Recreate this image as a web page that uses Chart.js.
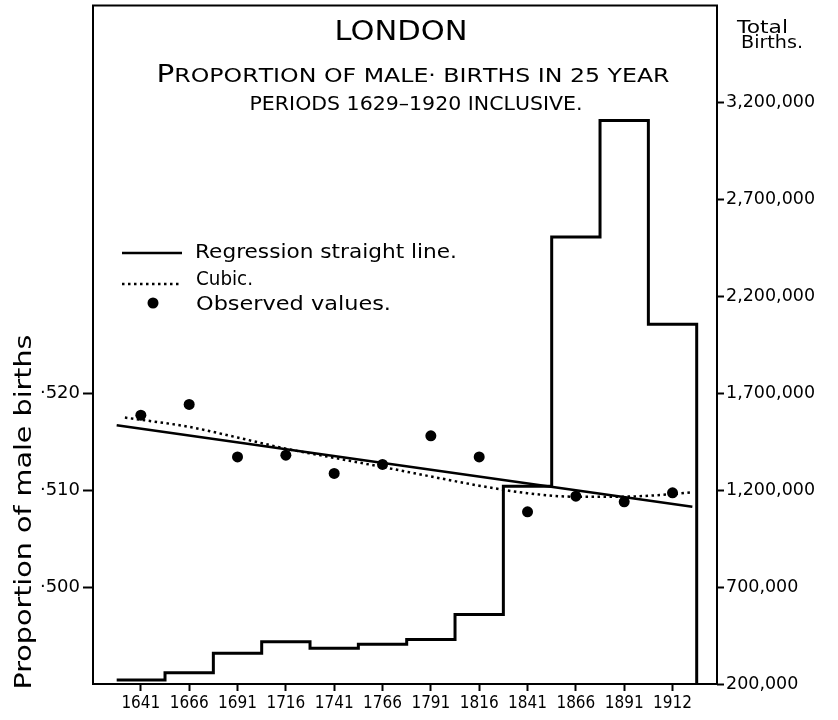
<!DOCTYPE html>
<html><head><meta charset="utf-8">
<script src="https://cdn.jsdelivr.net/npm/chart.js@4/dist/chart.umd.min.js"></script>
<style>html,body{margin:0;padding:0;background:#fff;} canvas{display:block;}</style>
</head><body>
<canvas id="c" width="838" height="720"></canvas>
<script>
// ---- data ----
const years = ['1641','1666','1691','1716','1741','1766','1791','1816','1841','1866','1891','1912'];
const totalBirths = [220000, 258000, 358000, 418000, 384000, 405000, 430000, 559000, 1220000, 2506000, 3107000, 2056000];
const observed = [0.51773, 0.51884, 0.51343, 0.51361, 0.51172, 0.51265, 0.51560, 0.51343, 0.50776, 0.50938, 0.50880, 0.50972];
const cubicPos = [-0.33, 0, 1, 2, 3, 4, 5, 6, 7, 8, 9, 10, 11, 11.37];
const cubicVal = [0.51749, 0.51726, 0.51653, 0.51543, 0.51428, 0.51333, 0.51239, 0.51141, 0.51046, 0.50968, 0.50932, 0.50933, 0.50959, 0.50976];
const regressionPos = [-0.5, 11.41];
const regressionVal = [0.5167, 0.50828];
const propTicks = [0.500, 0.510, 0.520];
const birthTicks = [200000, 700000, 1200000, 1700000, 2200000, 2700000, 3200000];

const FONT = '"DejaVu Sans", "Liberation Sans", sans-serif';
const NARROW = '"Liberation Sans Narrow", "DejaVu Sans Condensed", "Liberation Sans", sans-serif';

// step outline built from the birth totals (each period is one bin)
const stepData = [];
totalBirths.forEach((b, i) => { stepData.push({x: i - 0.5, y: b}); stepData.push({x: i + 0.5, y: b}); });
stepData.push({x: totalBirths.length - 0.5, y: birthTicks[0]});

function fitText(ctx, text, x, y, width, align) {
  const w = ctx.measureText(text).width;
  ctx.save();
  ctx.translate(x, y);
  ctx.scale(width / w, 1);
  ctx.textAlign = align;
  ctx.fillText(text, 0, 0);
  ctx.restore();
}
function smallCaps(ctx, text, cx, y, width, big, small) {
  const segs = [];
  for (const ch of text) {
    const isBig = ch !== ch.toLowerCase();
    segs.push({ch: ch.toUpperCase(), size: isBig ? big : small});
  }
  let total = 0;
  segs.forEach(s => { ctx.font = s.size + 'px ' + FONT; s.w = ctx.measureText(s.ch).width; total += s.w; });
  ctx.save();
  ctx.translate(cx - width / 2, y);
  ctx.scale(width / total, 1);
  ctx.textAlign = 'left';
  let xx = 0;
  segs.forEach(s => { ctx.font = s.size + 'px ' + FONT; ctx.fillText(s.ch, xx, 0); xx += s.w; });
  ctx.restore();
}

const deco = {
  id: 'deco',
  afterDraw(chart) {
    const ctx = chart.ctx;
    const a = chart.chartArea;
    ctx.save();
    ctx.strokeStyle = '#000';
    ctx.fillStyle = '#000';
    ctx.lineWidth = 2;
    ctx.strokeRect(a.left, a.top, a.right - a.left, a.bottom - a.top);
    ctx.textBaseline = 'alphabetic';
    // title
    ctx.font = '27px ' + FONT;
    fitText(ctx, 'LONDON', 401, 40, 133, 'center');
    smallCaps(ctx, 'Proportion of male· births in 25 year', 413, 82, 513, 25, 20);
    smallCaps(ctx, 'periods 1629–1920 inclusive.', 416, 110, 333, 20, 20);
    // right axis caption
    ctx.font = '17px ' + FONT;
    fitText(ctx, 'Total', 737, 33, 51, 'left');
    fitText(ctx, 'Births.', 741, 48, 62, 'left');
    // legend
    ctx.lineWidth = 2.5;
    ctx.beginPath(); ctx.moveTo(122, 253); ctx.lineTo(182, 253); ctx.stroke();
    ctx.setLineDash([2.5, 3.5]);
    ctx.beginPath(); ctx.moveTo(122, 284); ctx.lineTo(182, 284); ctx.stroke();
    ctx.setLineDash([]);
    ctx.beginPath(); ctx.arc(153, 303, 5.5, 0, Math.PI * 2); ctx.fill();
    ctx.font = '20px ' + FONT;
    fitText(ctx, 'Regression straight line.', 195, 258, 262, 'left');
    fitText(ctx, 'Cubic.', 196, 285, 57, 'left');
    fitText(ctx, 'Observed values.', 196, 310, 195, 'left');
    // left axis caption
    ctx.save();
    ctx.translate(31, 512);
    ctx.rotate(-Math.PI / 2);
    ctx.font = '23px ' + FONT;
    fitText(ctx, 'Proportion of male births', 0, 0, 355, 'center');
    ctx.restore();
    ctx.restore();
  }
};

function noPad(s) { s.paddingTop = 0; s.paddingBottom = 0; s.paddingLeft = 0; s.paddingRight = 0; }

new Chart(document.getElementById('c'), {
  type: 'scatter',
  data: {
    datasets: [
      {
        label: 'Observed values.',
        data: observed.map((v, i) => ({x: i, y: v})),
        yAxisID: 'y',
        showLine: false,
        pointRadius: 5.5,
        pointBackgroundColor: '#000',
        pointBorderWidth: 0,
        order: 0
      },
      {
        label: 'Regression straight line.',
        data: regressionPos.map((p, i) => ({x: p, y: regressionVal[i]})),
        yAxisID: 'y',
        showLine: true,
        borderColor: '#000',
        borderWidth: 2.5,
        pointRadius: 0,
        order: 1
      },
      {
        label: 'Cubic.',
        data: cubicPos.map((p, i) => ({x: p, y: cubicVal[i]})),
        yAxisID: 'y',
        showLine: true,
        borderColor: '#000',
        borderWidth: 2.5,
        borderDash: [2.5, 3.5],
        cubicInterpolationMode: 'monotone',
        pointRadius: 0,
        order: 2
      },
      {
        label: 'Total Births',
        data: stepData,
        yAxisID: 'y2',
        showLine: true,
        borderColor: '#000',
        borderWidth: 3,
        borderJoinStyle: 'miter',
        pointRadius: 0,
        order: 3
      }
    ]
  },
  options: {
    responsive: false,
    animation: false,
    devicePixelRatio: 1,
    layout: {padding: {top: 5, left: 0, right: 0, bottom: 0}},
    plugins: {legend: {display: false}, tooltip: {enabled: false}, title: {display: false}},
    scales: {
      x: {
        type: 'linear', position: 'bottom', min: -0.99, max: 11.92,
        afterBuildTicks: s => { s.ticks = years.map((_, i) => ({value: i})); },
        afterFit: s => { s.height = 36; noPad(s); },
        ticks: {autoSkip: false, maxRotation: 0, color: '#000', padding: 2,
          font: {family: NARROW, size: 17},
          callback: v => years[v]},
        grid: {drawOnChartArea: false, drawTicks: true, tickLength: 7, tickWidth: 2, color: '#000'},
        border: {display: false}
      },
      y: {
        type: 'linear', position: 'left', min: 0.49, max: 0.56,
        afterBuildTicks: s => { s.ticks = propTicks.map(v => ({value: v})); },
        afterFit: s => { s.width = 93; noPad(s); },
        ticks: {autoSkip: false, color: '#000', padding: 3, font: {family: FONT, size: 18},
          callback: v => '·' + Math.round(v * 1000)},
        grid: {drawOnChartArea: false, drawTicks: true, tickLength: 10, tickWidth: 2, color: '#000'},
        border: {display: false}
      },
      y2: {
        type: 'linear', position: 'right', min: 200000, max: 3700000,
        afterBuildTicks: s => { s.ticks = birthTicks.map(v => ({value: v})); },
        afterFit: s => { s.width = 121; noPad(s); },
        ticks: {autoSkip: false, color: '#000', padding: 2, font: {family: FONT, size: 17.5},
          callback: v => v.toLocaleString('en-US')},
        grid: {drawOnChartArea: false, drawTicks: true, tickLength: 7, tickWidth: 2, color: '#000'},
        border: {display: false}
      }
    }
  },
  plugins: [deco]
});
</script>
</body></html>
